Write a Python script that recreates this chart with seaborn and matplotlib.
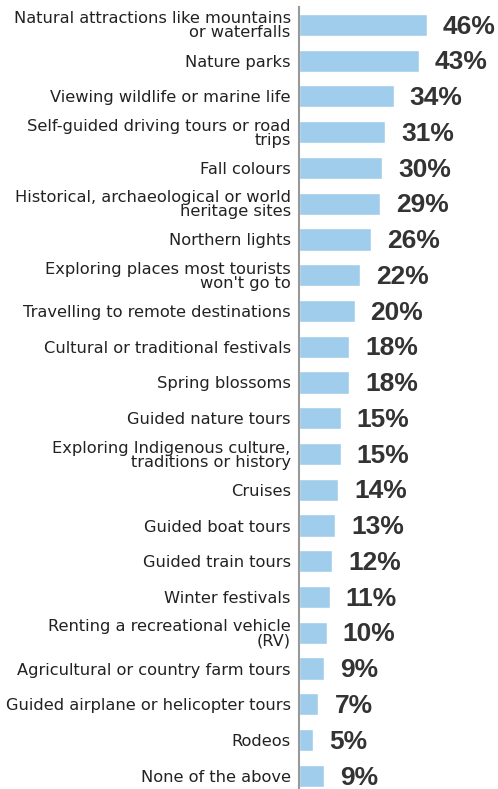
import matplotlib
matplotlib.use("Agg")
import matplotlib.pyplot as plt
import seaborn as sns
import pandas as pd

categories = [
    "Natural attractions like mountains\nor waterfalls",
    "Nature parks",
    "Viewing wildlife or marine life",
    "Self-guided driving tours or road\ntrips",
    "Fall colours",
    "Historical, archaeological or world\nheritage sites",
    "Northern lights",
    "Exploring places most tourists\nwon't go to",
    "Travelling to remote destinations",
    "Cultural or traditional festivals",
    "Spring blossoms",
    "Guided nature tours",
    "Exploring Indigenous culture,\ntraditions or history",
    "Cruises",
    "Guided boat tours",
    "Guided train tours",
    "Winter festivals",
    "Renting a recreational vehicle\n(RV)",
    "Agricultural or country farm tours",
    "Guided airplane or helicopter tours",
    "Rodeos",
    "None of the above",
]
values = [46, 43, 34, 31, 30, 29, 26, 22, 20, 18, 18, 15, 15, 14, 13, 12, 11, 10, 9, 7, 5, 9]

df = pd.DataFrame({"category": categories, "value": values})

sns.set_style("white")
plt.rcParams["font.family"] = ["Liberation Sans", "DejaVu Sans"]

W, H = 498, 789
fig = plt.figure(figsize=(W / 100, H / 100), dpi=100)
ax_left = 299 / W
px_per_unit = (427 - 299) / 46.0
xmax = 60
ax_width = px_per_unit * xmax / W
top_px = 7
pitch = 35.76
height_px = pitch * len(categories)
ax = fig.add_axes([ax_left, (H - top_px - height_px) / H, ax_width, height_px / H])

sns.barplot(data=df, y="category", x="value", orient="h", color="#9fcdeb",
            width=0.62, ax=ax, saturation=1)
ax.set_xlim(0, xmax)
ax.set_ylim(len(categories) - 0.5, -0.5)

for i, v in enumerate(values):
    ax.annotate(f"{v}%", xy=(v, i), xytext=(11.5, -1.2), textcoords="offset points",
                ha="left", va="center", fontsize=19, fontweight="bold", color="#333333")

ax.set_xlabel("")
ax.set_ylabel("")
ax.set_xticks([])
ax.tick_params(axis="y", length=0, pad=6, labelcolor="#222222")
for lab in ax.get_yticklabels():
    lab.set_fontfamily(["DejaVu Sans"])
    lab.set_fontsize(11.7)
    lab.set_linespacing(0.92)
for s in ["top", "right", "bottom"]:
    ax.spines[s].set_visible(False)
ax.spines["left"].set_color("#999999")
ax.spines["left"].set_linewidth(1.5)

fig.savefig("out.png", dpi=100)
